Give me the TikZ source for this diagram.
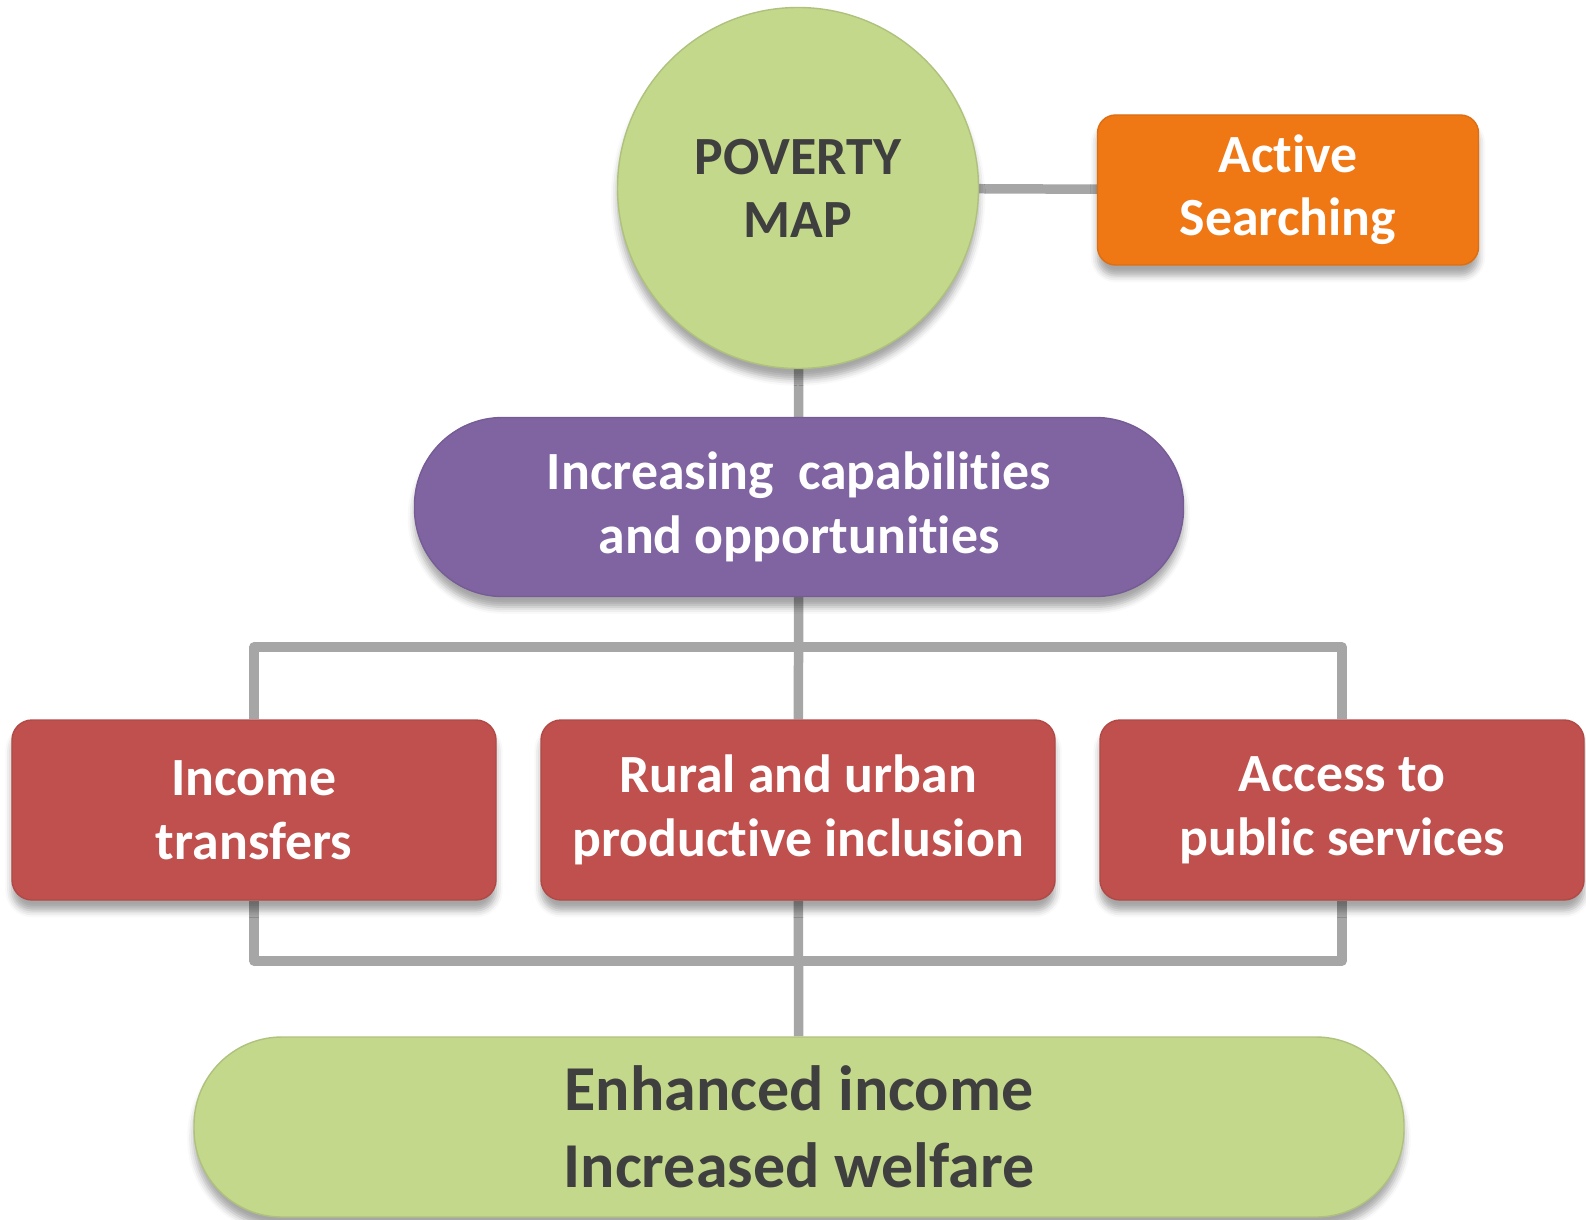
\documentclass[tikz,border=0pt]{standalone}
\usepackage{fontspec}
\setmainfont{Carlito}[Ligatures=NoCommon]
\usetikzlibrary{positioning,backgrounds,shadows.blur}

\definecolor{mapgreen}{HTML}{C3D88B}
\definecolor{capviolet}{HTML}{8064A2}
\definecolor{progred}{HTML}{C0504D}
\definecolor{searchorange}{HTML}{F07814}
\definecolor{linkgray}{HTML}{A6A6A6}
\definecolor{darktext}{HTML}{3F3F3F}

\begin{document}
\begin{tikzpicture}[
    every node/.style={font=\bfseries, align=center, inner sep=2pt},
    lnk/.style={draw=linkgray, line width=2.7pt, line join=round},
    shade/.style={blur shadow={shadow xshift=0pt, shadow yshift=-3pt, shadow opacity=35}},
    greenbox/.style={shade, fill=mapgreen, draw=mapgreen!90!black, thin, text=darktext},
    redbox/.style={shade, fill=progred, draw=progred!92!black, thin, text=white,
        minimum height=1.80cm, rounded corners=0.2cm,
        font=\bfseries\fontsize{15.3}{18.3}\selectfont}
]
\useasboundingbox (0,0) rectangle (15.86,-12.19);

% top: map and active searching
\node[greenbox, circle, minimum size=3.61cm,
      font=\bfseries\fontsize{15.3}{17.9}\selectfont] (pov) at (7.98,-1.88) {POVERTY\\MAP};
\node[shade, fill=searchorange, draw=searchorange!92!black, thin, text=white,
      minimum width=3.81cm, minimum height=1.50cm, rounded corners=0.18cm,
      font=\bfseries\fontsize{15.3}{18}\selectfont] (act) at (12.88,-1.90) {Active\\Searching};

% capabilities
\node[shade, fill=capviolet, draw=capviolet!92!black, thin, text=white,
      minimum width=7.69cm, minimum height=1.79cm, rounded corners=0.88cm,
      font=\bfseries\fontsize{15.3}{18.4}\selectfont] (cap) at (7.99,-5.07) {Increasing\ \ capabilities\\and opportunities};

% programmes
\node[redbox, minimum width=4.84cm] (inc) at (2.54,-8.10) {Income\\transfers};
\node[redbox, minimum width=5.14cm] (rur) at (7.98,-8.10) {Rural and urban\\productive inclusion};
\node[redbox, minimum width=4.84cm] (svc) at (13.42,-8.10) {Access to\\public services};

% outcome
\node[greenbox, minimum width=12.10cm, minimum height=1.80cm, rounded corners=0.88cm,
      font=\bfseries\fontsize{18.2}{21.8}\selectfont] (out) at (7.99,-11.27) {Enhanced income\\Increased welfare};

\coordinate (topbus) at (7.98,-6.47);
\coordinate (lowbus) at (7.98,-9.61);

\begin{scope}[on background layer]
  \draw[lnk] (pov) -- (act);
  \draw[lnk] (pov) -- (cap);
  \draw[lnk] (cap) -- (rur);
  \draw[lnk] (inc.north) |- (topbus) -| (svc.north);
  \draw[lnk] (inc.south) |- (lowbus) -| (svc.south);
  \draw[lnk] (rur) -- (out);
\end{scope}
\end{tikzpicture}
\end{document}
